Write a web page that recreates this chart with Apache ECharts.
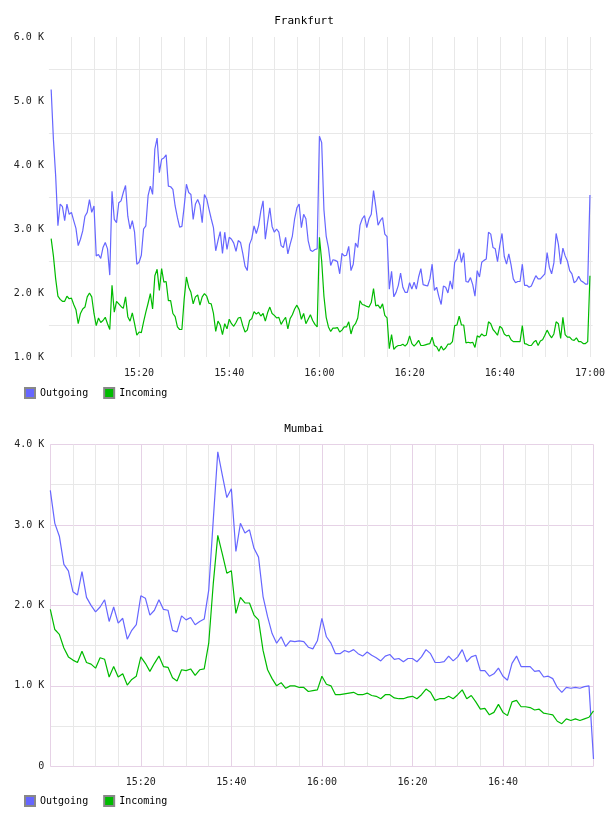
<!DOCTYPE html>
<html>
<head>
<meta charset="utf-8">
<script src="https://cdn.jsdelivr.net/npm/echarts@6/dist/echarts.min.js"></script>
<style>
  html, body { margin: 0; padding: 0; background: #fff; }
  #chart { width: 608px; height: 816px; }
</style>
</head>
<body>
<div id="chart"></div>
<script>
// times are minutes after 15:00, values in K
const fraStart = 0.5, fraStep = 0.5;
const fraOutgoing = [
  5.18,4.4,3.83,3.05,3.39,3.35,3.13,3.39,3.23,3.26,
  3.13,3.01,2.74,2.84,2.97,3.2,3.26,3.46,3.26,3.36,
  2.58,2.6,2.54,2.71,2.79,2.69,2.28,3.59,3.15,3.1,
  3.41,3.44,3.57,3.68,3.2,3.0,3.13,2.95,2.45,2.48,
  2.59,3.0,3.05,3.52,3.67,3.54,4.25,4.42,3.88,4.09,
  4.11,4.16,3.67,3.66,3.62,3.36,3.18,3.03,3.04,3.35,
  3.7,3.57,3.54,3.15,3.39,3.46,3.37,3.1,3.54,3.47,
  3.31,3.16,3.02,2.66,2.82,2.96,2.62,2.95,2.68,2.87,
  2.84,2.78,2.65,2.82,2.79,2.62,2.42,2.35,2.76,2.85,
  3.05,2.93,3.05,3.28,3.44,2.84,3.1,3.33,3.04,2.95,
  3.0,2.95,2.74,2.71,2.87,2.61,2.76,2.89,3.16,3.33,
  3.39,3.02,3.23,3.16,2.82,2.67,2.65,2.68,2.69,4.45,
  4.35,3.3,2.89,2.71,2.43,2.52,2.51,2.49,2.3,2.62,
  2.58,2.59,2.73,2.35,2.45,2.78,2.71,3.06,3.16,3.21,
  3.02,3.16,3.23,3.6,3.35,3.06,3.13,3.18,2.92,2.88,
  2.06,2.34,1.94,2.01,2.12,2.31,2.09,2.01,2.01,2.16,
  2.06,2.17,2.06,2.25,2.38,2.13,2.12,2.11,2.22,2.45,
  2.04,2.09,1.94,1.82,2.11,2.09,2.0,2.19,2.06,2.48,
  2.53,2.69,2.48,2.63,2.18,2.17,2.24,2.13,1.95,2.35,
  2.25,2.48,2.51,2.53,2.95,2.92,2.71,2.69,2.49,2.74,
  2.93,2.57,2.45,2.61,2.44,2.22,2.16,2.18,2.18,2.45,
  2.12,2.12,2.09,2.11,2.19,2.27,2.22,2.22,2.26,2.3,
  2.63,2.4,2.3,2.47,2.93,2.76,2.45,2.7,2.58,2.5,
  2.35,2.3,2.16,2.19,2.26,2.19,2.17,2.14,2.14,3.53
];
const fraIncoming = [
  2.85,2.58,2.22,1.95,1.9,1.87,1.87,1.95,1.91,1.92,
  1.82,1.74,1.52,1.68,1.75,1.78,1.94,2.0,1.94,1.68,
  1.49,1.61,1.54,1.57,1.62,1.52,1.43,2.12,1.7,1.87,
  1.83,1.79,1.76,1.94,1.63,1.56,1.69,1.52,1.34,1.39,
  1.38,1.55,1.7,1.84,1.99,1.75,2.27,2.37,2.04,2.38,
  2.17,2.18,1.88,1.88,1.68,1.63,1.47,1.43,1.43,1.9,
  2.25,2.09,2.01,1.83,1.94,1.97,1.81,1.94,1.99,1.95,
  1.84,1.83,1.68,1.4,1.56,1.5,1.35,1.52,1.44,1.59,
  1.52,1.48,1.54,1.61,1.62,1.49,1.39,1.42,1.57,1.6,
  1.71,1.67,1.7,1.64,1.68,1.56,1.69,1.78,1.68,1.65,
  1.61,1.62,1.51,1.57,1.62,1.44,1.6,1.66,1.75,1.81,
  1.74,1.59,1.68,1.52,1.59,1.66,1.57,1.51,1.47,2.87,
  2.5,1.95,1.62,1.47,1.4,1.45,1.45,1.46,1.39,1.42,
  1.47,1.47,1.55,1.36,1.48,1.52,1.61,1.88,1.82,1.81,
  1.79,1.78,1.85,2.07,1.8,1.81,1.76,1.83,1.65,1.61,
  1.13,1.35,1.12,1.16,1.18,1.18,1.2,1.17,1.21,1.33,
  1.21,1.17,1.21,1.26,1.18,1.18,1.19,1.2,1.21,1.31,
  1.18,1.16,1.09,1.17,1.11,1.14,1.2,1.2,1.24,1.49,
  1.5,1.64,1.5,1.5,1.22,1.23,1.22,1.23,1.15,1.33,
  1.31,1.36,1.33,1.34,1.55,1.52,1.43,1.39,1.34,1.48,
  1.45,1.36,1.33,1.34,1.27,1.24,1.24,1.24,1.24,1.49,
  1.21,1.2,1.18,1.18,1.23,1.26,1.18,1.25,1.27,1.34,
  1.42,1.35,1.3,1.36,1.55,1.52,1.29,1.62,1.35,1.31,
  1.31,1.27,1.26,1.3,1.24,1.24,1.21,1.21,1.24,2.27
];

const mumStart = 0, mumStep = 1;
const mumOutgoing = [
  3.43,3.02,2.86,2.51,2.43,2.17,2.13,2.42,2.1,2.0,
  1.92,1.98,2.07,1.8,1.98,1.78,1.84,1.58,1.69,1.76,
  2.12,2.09,1.88,1.94,2.07,1.95,1.94,1.69,1.67,1.87,
  1.82,1.85,1.76,1.8,1.83,2.19,3.06,3.91,3.62,3.34,
  3.45,2.67,3.02,2.9,2.94,2.71,2.6,2.11,1.86,1.65,
  1.53,1.61,1.49,1.56,1.55,1.56,1.55,1.48,1.46,1.56,
  1.84,1.61,1.53,1.4,1.4,1.44,1.42,1.45,1.4,1.37,
  1.42,1.38,1.35,1.31,1.37,1.39,1.33,1.34,1.3,1.34,
  1.34,1.3,1.36,1.45,1.4,1.29,1.29,1.3,1.37,1.31,
  1.36,1.45,1.3,1.36,1.38,1.19,1.19,1.12,1.15,1.22,
  1.12,1.07,1.28,1.37,1.24,1.24,1.24,1.18,1.19,1.11,
  1.12,1.09,0.98,0.92,0.98,0.97,0.98,0.97,0.99,1.0,
  0.09
];
const mumIncoming = [
  1.95,1.7,1.64,1.47,1.36,1.32,1.29,1.43,1.29,1.27,
  1.22,1.35,1.33,1.11,1.24,1.11,1.15,1.01,1.08,1.12,
  1.36,1.28,1.18,1.28,1.37,1.24,1.23,1.1,1.06,1.2,
  1.19,1.21,1.13,1.2,1.21,1.53,2.27,2.87,2.64,2.4,
  2.43,1.9,2.1,2.03,2.03,1.88,1.82,1.44,1.2,1.09,
  1.0,1.04,0.97,1.0,1.0,0.98,0.98,0.93,0.94,0.95,
  1.12,1.02,1.0,0.89,0.89,0.9,0.91,0.92,0.89,0.89,
  0.91,0.88,0.87,0.84,0.89,0.89,0.85,0.84,0.84,0.86,
  0.87,0.84,0.89,0.96,0.92,0.82,0.84,0.84,0.87,0.84,
  0.89,0.95,0.84,0.88,0.8,0.71,0.72,0.64,0.67,0.77,
  0.67,0.63,0.8,0.82,0.74,0.74,0.73,0.7,0.71,0.66,
  0.65,0.64,0.56,0.53,0.59,0.57,0.59,0.57,0.59,0.61,
  0.69
];

const timeLabels = { 20: '15:20', 40: '15:40', 60: '16:00', 80: '16:20', 100: '16:40', 120: '17:00' };
const seriesNames = ['Outgoing', 'Incoming'];
const titles = ['Frankfurt', 'Mumbai'];

const mono = 'DejaVu Sans Mono';
const blue = '#6666ff';
const green = '#00bb00';
const grey = '#e8e8e8';
const pink = '#e6d2e6';

function toPoints(values, start, step) {
    return values.map((v, i) => [start + i * step, v]);
}

function kLabel(v) {
    if (Math.abs(v - Math.round(v)) > 1e-6) return '';
    if (v === 0) return '0';
    return v.toFixed(1) + ' K';
}

var myChart = echarts.init(document.getElementById('chart'), null, { renderer: 'canvas' });

var option = {
    animation: false,
    backgroundColor: '#fff',
    title: [
        { text: titles[0], left: 'center', top: 16, padding: 0,
          textStyle: { fontFamily: mono, fontSize: 11, fontWeight: 'normal', color: '#000' } },
        { text: titles[1], left: 'center', top: 424, padding: 0,
          textStyle: { fontFamily: mono, fontSize: 11, fontWeight: 'normal', color: '#000' } }
    ],
    legend: [
        { left: 24, top: 387, padding: 0, itemWidth: 10, itemHeight: 10, itemGap: 15, icon: 'rect',
          textStyle: { fontFamily: mono, fontSize: 10, color: '#000' },
          data: seriesNames },
        { left: 24, top: 795, padding: 0, itemWidth: 10, itemHeight: 10, itemGap: 15, icon: 'rect',
          textStyle: { fontFamily: mono, fontSize: 10, color: '#000' },
          data: seriesNames }
    ],
    grid: [
        { left: 48.9, top: 37, width: 545.1, height: 320 },
        { left: 50.3, top: 444.5, width: 543.2, height: 321.8 }
    ],
    xAxis: [
        {
            gridIndex: 0, type: 'value', min: 0, max: 120.6, interval: 5,
            axisLine: { show: false }, axisTick: { show: false },
            splitLine: { show: true, showMinLine: false, showMaxLine: false,
                         lineStyle: { color: grey, width: 1 } },
            axisLabel: {
                margin: 11, fontFamily: mono, fontSize: 10, color: '#222',
                showMinLabel: true, showMaxLabel: true, hideOverlap: false,
                formatter: (v) => timeLabels[Math.round(v * 100) / 100] || ''
            }
        },
        {
            gridIndex: 1, type: 'value', min: 0, max: 120, interval: 5,
            axisLine: { show: false }, axisTick: { show: false },
            splitLine: { show: true,
                         lineStyle: { color: [pink, grey, grey, grey], width: 1 } },
            axisLabel: {
                margin: 11, fontFamily: mono, fontSize: 10, color: '#222',
                hideOverlap: false,
                formatter: (v) => (v < 120 && timeLabels[v]) || ''
            }
        }
    ],
    yAxis: [
        {
            gridIndex: 0, type: 'value', min: 1, max: 6, interval: 0.5,
            axisLine: { show: false }, axisTick: { show: false },
            splitLine: { show: true, lineStyle: { color: ['rgba(0,0,0,0)', grey], width: 1 } },
            axisLabel: { margin: 5, fontFamily: mono, fontSize: 10, color: '#222', formatter: kLabel }
        },
        {
            gridIndex: 1, type: 'value', min: 0, max: 4, interval: 0.5,
            axisLine: { show: false }, axisTick: { show: false },
            splitLine: { show: true, lineStyle: { color: [pink, grey], width: 1 } },
            axisLabel: { margin: 6, fontFamily: mono, fontSize: 10, color: '#222', formatter: kLabel }
        }
    ],
    series: [
        {
            name: seriesNames[0], type: 'line', xAxisIndex: 0, yAxisIndex: 0,
            showSymbol: false, color: blue,
            itemStyle: { color: blue, borderColor: '#888', borderWidth: 1 },
            lineStyle: { color: blue, width: 1.2 },
            data: toPoints(fraOutgoing, fraStart, fraStep)
        },
        {
            name: seriesNames[1], type: 'line', xAxisIndex: 0, yAxisIndex: 0,
            showSymbol: false, color: green,
            itemStyle: { color: green, borderColor: '#888', borderWidth: 1 },
            lineStyle: { color: green, width: 1.2 },
            data: toPoints(fraIncoming, fraStart, fraStep)
        },
        {
            name: seriesNames[0], type: 'line', xAxisIndex: 1, yAxisIndex: 1,
            showSymbol: false, color: blue,
            itemStyle: { color: blue, borderColor: '#888', borderWidth: 1 },
            lineStyle: { color: blue, width: 1.2 },
            data: toPoints(mumOutgoing, mumStart, mumStep)
        },
        {
            name: seriesNames[1], type: 'line', xAxisIndex: 1, yAxisIndex: 1,
            showSymbol: false, color: green,
            itemStyle: { color: green, borderColor: '#888', borderWidth: 1 },
            lineStyle: { color: green, width: 1.2 },
            data: toPoints(mumIncoming, mumStart, mumStep)
        }
    ]
};
myChart.setOption(option);
</script>
</body>
</html>
